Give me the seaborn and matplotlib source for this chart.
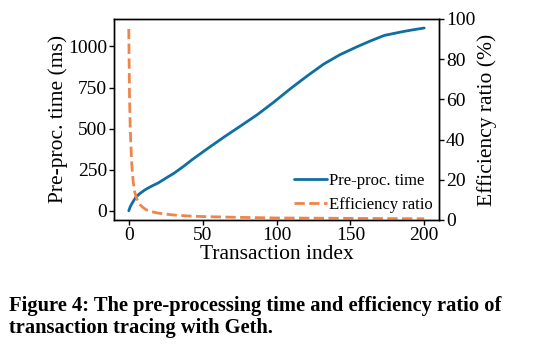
import matplotlib
matplotlib.use("Agg")
import matplotlib.pyplot as plt
import seaborn as sns
import pandas as pd

# ---- data ----
time_idx = [0, 1, 2, 3, 4.5, 7, 11, 15, 20, 25, 31, 37, 43, 54, 65, 76, 87, 98, 110,
            121, 132, 143, 155, 164, 173, 180, 186, 193, 200]
time_ms = [0, 25, 42, 57, 79, 102, 128, 148, 170, 198, 231, 270, 312, 383, 452, 518,
           585, 660, 747, 822, 893, 950, 1000, 1035, 1067, 1080, 1091, 1102, 1112]

ratio_idx = [0, 0.5, 1, 1.5, 2, 3, 4, 5, 6, 8, 10, 12, 15, 20, 30, 40, 50, 75, 100,
             150, 200]
ratio_pct = [95, 62, 45, 36, 28, 19, 14, 11.5, 9.5, 7.3, 6.0, 5.0, 4.2, 3.4, 2.5, 2.0,
             1.7, 1.3, 1.0, 0.8, 0.6]

x_ticks = [0, 50, 100, 150, 200]
left_ticks = [0, 250, 500, 750, 1000]
right_ticks = [0, 20, 40, 60, 80, 100]

caption = ("Figure 4: The pre-processing time and efficiency ratio of\n"
           "transaction tracing with Geth.")

# ---- style ----
sns.set_style("ticks")
plt.rcParams["font.family"] = ["Liberation Serif", "DejaVu Serif"]
for k in ("text.color", "axes.labelcolor", "xtick.color", "ytick.color",
          "xtick.labelcolor", "ytick.labelcolor"):
    plt.rcParams[k] = "black"

BLUE = "#0f6fa3"
ORANGE = "#ee854a"

fig = plt.figure(figsize=(5.55, 3.63), dpi=100)
ax = fig.add_axes([0.2054, 0.394, 0.791 - 0.2054, 0.948 - 0.394])
ax2 = ax.twinx()

df_t = pd.DataFrame({"idx": time_idx, "ms": time_ms})
df_r = pd.DataFrame({"idx": ratio_idx, "pct": ratio_pct})

sns.lineplot(data=df_t, x="idx", y="ms", ax=ax, color=BLUE, linewidth=2.0,
             label="Pre-proc. time", legend=False)
sns.lineplot(data=df_r, x="idx", y="pct", ax=ax2, color=ORANGE, linewidth=2.0,
             linestyle="--", label="Efficiency ratio", legend=False)

ax.set_xticks(x_ticks)
ax.set_yticks(left_ticks)
ax2.set_yticks(right_ticks)
ax2.set_ylim(0, 100)
ax.set_xlim(-10, 210)

ax.set_xlabel("Transaction index", fontsize=15.5, labelpad=1)
ax.set_ylabel("Pre-proc. time (ms)", fontsize=15.5, labelpad=0)
ax2.set_ylabel("Efficiency ratio (%)", fontsize=15.5, labelpad=1)

for a in (ax, ax2):
    a.tick_params(labelsize=14, length=3.5, width=1, color="black", pad=1.5)
    for s in a.spines.values():
        s.set_visible(True)
        s.set_color("black")
        s.set_linewidth(1.0)

h1, l1 = ax.get_legend_handles_labels()
h2, l2 = ax2.get_legend_handles_labels()
leg = ax2.legend(h1 + h2, l1 + l2, loc="lower right", frameon=False, fontsize=12,
                 handlelength=2.0, handletextpad=0.1, borderaxespad=0.0,
                 labelspacing=0.5)

fig.text(0.016, 1 - 333 / 363, caption, fontsize=14.8, fontweight="bold",
         ha="left", va="baseline", linespacing=1.12, color="black")

fig.savefig("out.png", dpi=100)
